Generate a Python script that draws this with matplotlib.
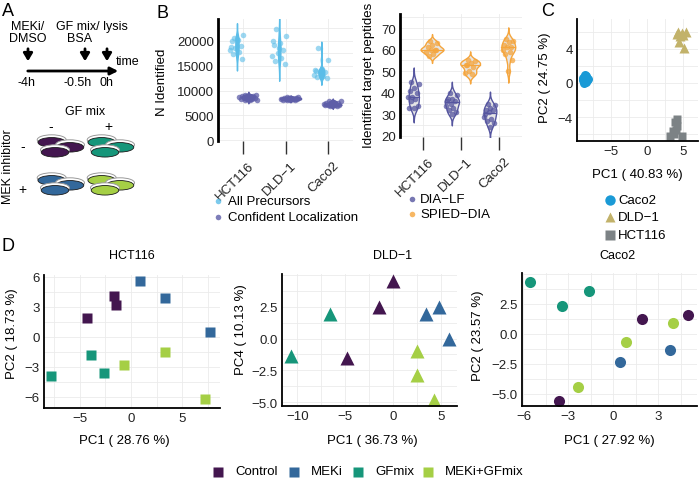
import numpy as np
import matplotlib
matplotlib.use('Agg')
import matplotlib.pyplot as plt
from matplotlib.patches import Ellipse
from matplotlib.ticker import AutoMinorLocator
from matplotlib.transforms import ScaledTranslation

plt.rcParams['font.family'] = ['Liberation Sans', 'DejaVu Sans']
plt.rcParams['font.size'] = 9

# ---------------- data ----------------
cell_lines = ['HCT116', 'DLD\u22121', 'Caco2']

# Panel B (left): identified precursors per cell line
all_precursors = [
    [20500, 21200, 20100, 19900, 19000, 18600, 18200, 17800, 17300, 16400, 20300, 18800],
    [22300, 21000, 19500, 19100, 18200, 17600, 17000, 16600, 16000, 15300, 18500, 20000],
    [18500, 16200, 14400, 14000, 13700, 13500, 13200, 13000, 12700, 12500, 13900, 14200],
]
confident_loc = [
    [9200, 9100, 9000, 8950, 8900, 8800, 8750, 8700, 8600, 8500, 8450, 8400, 8300, 8200, 8100, 8000],
    [8700, 8650, 8600, 8550, 8500, 8450, 8400, 8350, 8300, 8250, 8200, 8150, 8100, 8000],
    [7900, 7800, 7700, 7500, 7400, 7300, 7250, 7200, 7150, 7100, 7050, 7000, 6900, 6800],
]

# Panel B (right): identified target peptides
dia_lf = [
    [45, 44, 42, 41, 40, 38, 38, 37, 36, 34, 33, 33],
    [40, 39, 37, 37, 36, 35, 34, 33, 32, 31, 30, 36],
    [35, 34.5, 33, 32, 32, 31, 29, 28, 27, 26, 24, 30],
]
spied_dia = [
    [64, 63, 62, 61, 60, 60, 59, 58, 57, 60],
    [55, 54.5, 54, 53, 52, 50, 49, 48.5, 53],
    [65, 64, 63.5, 62, 61, 61, 60, 59, 58, 55, 50],
]

# Panel C: PCA of all cell lines
caco2_pc1 = [-8.9, -8.6, -8.3, -8.8, -8.5, -8.7, -9.0, -8.4, -8.6, -8.8, -8.5, -8.7]
caco2_pc2 = [0.6, 0.8, 0.5, 0.2, 0.1, 0.9, 0.4, 0.3, 0.4, 0.0, 0.7, 0.5]
dld1_pc1 = [4.3, 5.4, 4.4, 5.1, 4.8, 4.6, 5.0, 4.2]
dld1_pc2 = [6.0, 6.0, 4.8, 4.1, 5.9, 5.5, 5.6, 5.8]
hct116_pc1 = [3.9, 4.2, 3.2, 4.8, 3.8, 4.0, 4.2, 3.6]
hct116_pc2 = [-4.6, -5.1, -6.2, -6.2, -6.0, -5.5, -4.2, -5.6]

# Panel D: PCA per cell line, by treatment
conditions = ['Control', 'MEKi', 'GFmix', 'MEKi+GFmix']
d_hct_group = [0, 0, 0, 1, 1, 1, 2, 2, 2, 3, 3, 3]
d_hct_pc1 = [-1.7, -1.5, -4.3, 0.9, 3.3, 7.7, -3.9, -2.6, -7.8, -0.7, 3.3, 7.2]
d_hct_pc2 = [4.1, 3.2, 1.9, 5.6, 3.9, 0.5, -1.8, -3.6, -3.9, -2.8, -1.5, -6.2]
d_dld_group = [0, 0, 0, 1, 1, 1, 2, 2, 3, 3, 3]
d_dld_pc1 = [0.0, -1.5, -4.8, 4.8, 3.5, 5.9, -6.6, -10.7, 2.5, 2.5, 4.3]
d_dld_pc4 = [4.5, 2.5, -1.55, 2.5, 1.9, 0.0, 1.9, -1.4, -1.0, -2.9, -4.8]
d_caco_group = [0, 0, 0, 1, 1, 2, 2, 2, 3, 3, 3]
d_caco_pc1 = [1.9, 5.0, -3.6, 3.8, 0.45, -5.55, -1.6, -3.4, 4.0, 0.87, -2.36]
d_caco_pc2 = [1.25, 1.58, -5.55, -1.3, -2.36, 4.3, 3.6, 2.3, 0.9, -0.7, -4.4]

# ---------------- style ----------------
cond_colors = ['#43164f', '#33689b', '#16967a', '#a5cf45']
c_all, c_conf = '#5bbde8', '#5e5ea8'
c_lf, c_spied = '#55559f', '#f5a53c'
c_caco, c_dld, c_hct = '#1a9ad6', '#c2b26a', '#7c8285'
grid_c = '#ebebeb'
txt_c = '#222222'

W, H = 700, 481
fig = plt.figure(figsize=(7, 4.81), dpi=100)


def box(x0, y0, x1, y1):
    return [x0 / W, 1 - y1 / H, (x1 - x0) / W, (y1 - y0) / H]


def style(ax, bottom_spine=True):
    for s in ['top', 'right']:
        ax.spines[s].set_visible(False)
    ax.spines['left'].set_linewidth(1.3)
    ax.spines['bottom'].set_linewidth(1.3)
    ax.spines['bottom'].set_visible(bottom_spine)
    ax.grid(True, which='both', color=grid_c, lw=0.6)
    ax.set_axisbelow(True)
    ax.tick_params(which='both', length=0, labelsize=9.5, colors=txt_c, pad=3)


def minus(v, fmt='{:g}'):
    return fmt.format(v).replace('-', '\u2212')


def kde(vals, n=200):
    v = np.asarray(vals, float)
    sd = v.std(ddof=1)
    iqr = np.subtract(*np.percentile(v, [75, 25]))
    bw = 0.9 * min(sd, iqr / 1.34) * len(v) ** -0.2
    y = np.linspace(v.min() - 3 * bw, v.max() + 3 * bw, n)
    d = np.exp(-0.5 * ((y[:, None] - v[None, :]) / bw) ** 2).sum(1) / (len(v) * bw * np.sqrt(2 * np.pi))
    return y, d


def jitter(n, w):
    return ((np.arange(n) * 0.618034 + 0.3) % 1 - 0.5) * 2 * w


def violins(ax, groups, dodge, color, fill, max_half, scale, median=False, pw=0.15, alpha=0.75):
    for i, vals in enumerate(groups):
        x = i + 1 + dodge
        y, d = kde(vals)
        hw = d * scale * max_half
        ax.fill_betweenx(y, x - hw, x + hw, facecolor=fill, edgecolor=color, lw=1, zorder=2)
        if median:
            m = np.median(vals)
            w = np.interp(m, y, hw)
            ax.plot([x - w, x + w], [m, m], color=color, lw=0.9, zorder=3)
        ax.plot(x + jitter(len(vals), pw), vals, 'o', ms=4, color=color, alpha=alpha, mec='none', zorder=4)


def cat_axis(ax):
    ax.set_xlim(0.4, 3.6)
    ax.set_xticks([1, 2, 3])
    ax.set_xticklabels(cell_lines, rotation=45, ha='right', rotation_mode='anchor')
    ax.tick_params(axis='x', length=9, width=1, color='#333333', pad=4)
    shift = ScaledTranslation(3.5 / 72, 0, fig.dpi_scale_trans)
    for lab in ax.get_xticklabels():
        lab.set_transform(lab.get_transform() + shift)
    ax.spines['left'].set_linewidth(2)


# ---------------- panel B left ----------------
axb1 = fig.add_axes(box(218, 20, 353, 142))
style(axb1, bottom_spine=False)
dmax = max(kde(v)[1].max() for v in all_precursors + confident_loc)
violins(axb1, all_precursors, -0.15, c_all, c_all, 0.25, 1 / dmax, pw=0.18, alpha=0.6)
violins(axb1, confident_loc, 0.12, c_conf, c_conf, 0.25, 1 / dmax, pw=0.22, alpha=0.75)
axb1.set_ylim(-150, 24400)
axb1.set_yticks([0, 5000, 10000, 15000, 20000])
axb1.yaxis.set_minor_locator(AutoMinorLocator(2))
cat_axis(axb1)

# ---------------- panel B right ----------------
axb2 = fig.add_axes(box(400, 15, 522, 138))
style(axb2, bottom_spine=False)
dmax2 = max(kde(v)[1].max() for v in dia_lf + spied_dia)
violins(axb2, dia_lf, -0.24, c_lf, '#e6e6e6', 0.3, 1 / dmax2, median=True, pw=0.15)
violins(axb2, spied_dia, 0.24, c_spied, '#e6e6e6', 0.3, 1 / dmax2, median=True, pw=0.15)
axb2.set_ylim(19.5, 76.5)
axb2.set_yticks([20, 30, 40, 50, 60, 70])
axb2.yaxis.set_minor_locator(AutoMinorLocator(2))
cat_axis(axb2)

# ---------------- panel C ----------------
axc = fig.add_axes(box(577, 20, 698, 142))
style(axc)
axc.plot(caco2_pc1, caco2_pc2, 'o', ms=6.5, color=c_caco, mec='none')
axc.plot(dld1_pc1, dld1_pc2, '^', ms=7, color=c_dld, mec='none')
axc.plot(hct116_pc1, hct116_pc2, 's', ms=6, color=c_hct, mec='none')
axc.set_xlim(-9.8, 7.1)
axc.set_ylim(-6.8, 7.5)
axc.set_xticks([-5, 0, 5])
axc.set_xticklabels([minus(v) for v in [-5, 0, 5]])
axc.set_yticks([-4, 0, 4])
axc.set_yticklabels([minus(v) for v in [-4, 0, 4]])
axc.xaxis.set_minor_locator(AutoMinorLocator(2))
axc.yaxis.set_minor_locator(AutoMinorLocator(2))

# ---------------- panel D ----------------
def pca_panel(rect, pc_x, pc_y, groups, marker, ms, xlim, ylim, xt, yt, fmt='{:g}'):
    ax = fig.add_axes(box(*rect))
    style(ax)
    g = np.asarray(groups)
    for k, col in enumerate(cond_colors):
        sel = g == k
        ax.plot(np.asarray(pc_x)[sel], np.asarray(pc_y)[sel], marker, ms=ms, color=col, mec='none')
    ax.set_xlim(*xlim)
    ax.set_ylim(*ylim)
    ax.set_xticks(xt)
    ax.set_xticklabels([minus(v) for v in xt])
    ax.set_yticks(yt)
    ax.set_yticklabels([minus(v, fmt) for v in yt])
    ax.xaxis.set_minor_locator(AutoMinorLocator(2))
    ax.yaxis.set_minor_locator(AutoMinorLocator(2))
    return ax


pca_panel((44, 276, 220, 409), d_hct_pc1, d_hct_pc2, d_hct_group, 's', 7.5,
          (-8.5, 8.7), (-7.1, 6.2), [-5, 0, 5], [-6, -3, 0, 3, 6])
pca_panel((282, 275, 457, 407), d_dld_pc1, d_dld_pc4, d_dld_group, '^', 9.5,
          (-11.6, 6.7), (-5.3, 5.07), [-10, -5, 0, 5], [-5, -2.5, 0, 2.5], '{:.1f}')
pca_panel((522, 274, 697, 407), d_caco_pc1, d_caco_pc2, d_caco_group, 'o', 8,
          (-6.1, 5.6), (-6.0, 5.08), [-6, -3, 0, 3], [-5, -2.5, 0, 2.5], '{:.1f}')

# ---------------- overlay: panel A, labels, legends ----------------
ov = fig.add_axes([0, 0, 1, 1], zorder=10)
ov.set_xlim(0, W)
ov.set_ylim(H, 0)
ov.axis('off')
ov.patch.set_alpha(0)

for lab, x, y in [('A', 8, 12), ('B', 162, 13), ('C', 548, 11), ('D', 8, 247)]:
    ov.text(x, y, lab, fontsize=13, ha='center', va='center', color='black')

# timeline
ov.text(28, 27, 'MEKi/', ha='center', va='center', fontsize=9)
ov.text(28, 39, 'DMSO', ha='center', va='center', fontsize=9)
ov.text(92, 27, 'GF mix/ lysis', ha='center', va='center', fontsize=9)
ov.text(80, 39, 'BSA', ha='center', va='center', fontsize=9)
for x in [28, 85, 107]:
    ov.annotate('', xy=(x, 65), xytext=(x, 47),
                arrowprops=dict(arrowstyle='-|>,head_width=0.3,head_length=0.5', lw=2, color='black'))
ov.annotate('', xy=(121, 72), xytext=(25, 72),
            arrowprops=dict(arrowstyle='-|>,head_width=0.25,head_length=0.5', lw=2, color='black'))
ov.text(116, 62, 'time', ha='left', va='center', fontsize=9)
ov.text(27, 83, '-4h', ha='center', va='center', fontsize=9)
ov.text(78, 83, '-0.5h', ha='center', va='center', fontsize=9)
ov.text(107, 83, '0h', ha='center', va='center', fontsize=9)

# dish grid: rows = MEK inhibitor -/+, columns = GF mix -/+
ov.text(85, 112, 'GF mix', ha='center', va='center', fontsize=9)
ov.text(51, 127, '-', ha='center', va='center', fontsize=10)
ov.text(108, 127, '+', ha='center', va='center', fontsize=10)
ov.text(8, 167, 'MEK inhibitor', ha='center', va='center', rotation=90, fontsize=9)
ov.text(23, 147, '-', ha='center', va='center', fontsize=10)
ov.text(22, 190, '+', ha='center', va='center', fontsize=10)
dish_offsets = [(0, 0), (0, 38), (50, 0), (50, 38)]
dish_centers = [(51.7, 143.3), (70, 148.3), (55, 153.3)]
for (ox, oy), col in zip(dish_offsets, cond_colors):
    for cx, cy in dish_centers:
        ov.add_patch(Ellipse((cx + ox, cy + oy - 2.5), 29, 10, facecolor='white',
                             edgecolor='#9a9a9a', lw=0.7))
        ov.add_patch(Ellipse((cx + ox, cy + oy), 27.5, 9.5, facecolor=col,
                             edgecolor='#1a1a1a', lw=0.6))

# axis labels
ov.text(162, 82, 'N Identified', rotation=90, ha='center', va='center', fontsize=9.5)
ov.text(369, 75, 'Identified target peptides', rotation=90, ha='center', va='center', fontsize=9.5)
ov.text(545, 78, 'PC2 ( 24.75 %)', rotation=90, ha='center', va='center', fontsize=9.5)
ov.text(637, 175, 'PC1 ( 40.83 %)', ha='center', va='center', fontsize=9.5)
ov.text(12, 334, 'PC2 ( 18.73 %)', rotation=90, ha='center', va='center', fontsize=9.5)
ov.text(124, 441, 'PC1 ( 28.76 %)', ha='center', va='center', fontsize=9.5)
ov.text(241, 330, 'PC4 ( 10.13 %)', rotation=90, ha='center', va='center', fontsize=9.5)
ov.text(372, 441, 'PC1 ( 36.73 %)', ha='center', va='center', fontsize=9.5)
ov.text(478, 336, 'PC2 ( 23.57 %)', rotation=90, ha='center', va='center', fontsize=9.5)
ov.text(609, 441, 'PC1 ( 27.92 %)', ha='center', va='center', fontsize=9.5)
ov.text(132, 256, 'HCT116', ha='center', va='center', fontsize=9)
ov.text(393, 256, 'DLD\u22121', ha='center', va='center', fontsize=9)
ov.text(617, 256, 'Caco2', ha='center', va='center', fontsize=9)

# legends
for y, lab, col in [(202, 'All Precursors', c_all), (218, 'Confident Localization', c_conf)]:
    ov.plot(218, y, 'o', ms=4, color=col, alpha=0.8, mec='none')
    ov.text(228, y, lab, ha='left', va='center', fontsize=9.5)
for y, lab, col in [(200, 'DIA\u2212LF', c_lf), (215, 'SPIED\u2212DIA', c_spied)]:
    ov.plot(412, y, 'o', ms=4, color=col, alpha=0.8, mec='none')
    ov.text(420, y, lab, ha='left', va='center', fontsize=9.5)
for y, lab, col, mk in [(201, 'Caco2', c_caco, 'o'), (218, 'DLD\u22121', c_dld, '^'),
                        (236, 'HCT116', c_hct, 's')]:
    ov.plot(610, y, mk, ms=7.5, color=col, mec='none')
    ov.text(618, y, lab, ha='left', va='center', fontsize=9.5)
for x, lab, col in zip([218, 294, 358, 428], conditions, cond_colors):
    ov.plot(x, 473, 's', ms=7.5, color=col, mec='none')
    ov.text(x + 17, 472, lab, ha='left', va='center', fontsize=9.5)

fig.savefig('out.png', dpi=100)
